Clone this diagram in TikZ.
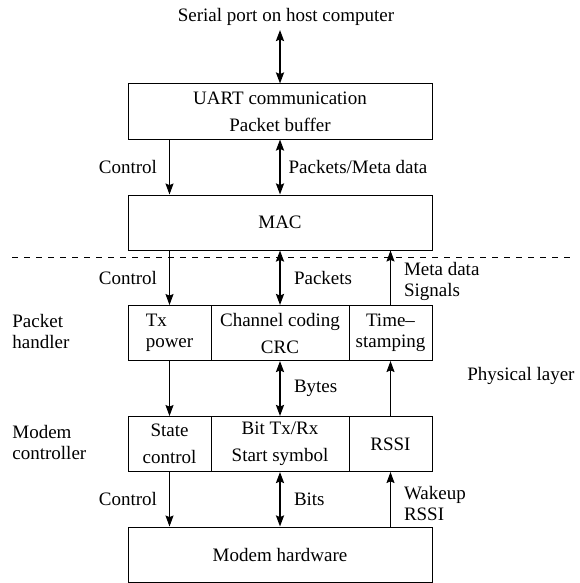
\documentclass[tikz,border=0pt]{standalone}
\usepackage{fontspec}
\setmainfont{Liberation Serif}
\usetikzlibrary{arrows.meta,positioning}
\tikzset{
	layerbox/.style={draw,line width=0.5pt,inner sep=0pt,minimum height=27.5pt,align=center},
	widebox/.style={layerbox,minimum width=152pt},
	sidecell/.style={layerbox,minimum width=41.5pt},
	midcell/.style={layerbox,minimum width=69pt},
	oneway/.style={-{Stealth[length=5.5pt,width=4pt,inset=0.8pt]},line width=0.5pt},
	twoway/.style={{Stealth[length=5.5pt,width=4pt,inset=0.8pt]}-{Stealth[length=5.5pt,width=4pt,inset=0.8pt]},line width=1pt},
	lbl/.style={inner sep=0pt,align=left}
}

\begin{document}
\begin{tikzpicture}[x=0.5pt,y=-0.5pt,font=\fontsize{9.5}{10.5}\selectfont]
	\useasboundingbox (0,0) rectangle (579,583);

	\node (serial) at (286,17) {Serial port on host computer};
	\coordinate (serialend) at (280,30);
	\node[widebox] (uart) at (280,111.5) {UART communication\\[3pt]Packet buffer};
	\node[widebox] (mac) at (280,222.5) {MAC};

	\draw[dashed,line width=0.5pt] (12,257)--(570,257);

	\node[sidecell,align=left] (txpow) at (169.5,333) {Tx\\power};
	\node[midcell] (chcod) at (280,333) {Channel coding\\[3pt]CRC};
	\node[sidecell] (tstamp) at (390.5,333) {Time--\\stamping};

	\node[sidecell] (stctl) at (169.5,444) {State\\[3pt]control};
	\node[midcell] (bittx) at (280,444) {Bit Tx/Rx\\[3pt]Start symbol};
	\node[sidecell] (rssi) at (390.5,444) {RSSI};

	\node[widebox] (modemhw) at (280,554.5) {Modem hardware};

	\node[lbl,anchor=west] (pkthdl) at (12,331) {Packet\\handler};
	\node[lbl,anchor=west] (mdmctl) at (12,442) {Modem\\controller};
	\node[lbl,anchor=west] (phylayer) at (467,376) {Physical layer};

	% host side
	\draw[twoway] (serialend)--(uart.north);
	\draw[oneway] (uart.south -| txpow)--node[lbl,midway,left=6pt]{Control}(mac.north -| txpow);
	\draw[twoway] (uart.south)--node[lbl,midway,right=3.8pt]{Packets/Meta data}(mac.north);

	% mac to packet handler
	\draw[oneway] (mac.south -| txpow)--node[lbl,midway,left=6pt]{Control}(txpow.north);
	\draw[twoway] (mac.south)--node[lbl,midway,right=6.5pt]{Packets}(chcod.north);
	\draw[oneway] (tstamp.north)--node[lbl,midway,right=6.5pt,yshift=-2pt]{Meta data\\Signals}(tstamp.north |- mac.south);

	% packet handler to modem controller
	\draw[oneway] (txpow.south)--(stctl.north);
	\draw[twoway] (chcod.south)--node[lbl,midway,right=6.5pt]{Bytes}(bittx.north);
	\draw[oneway] (rssi.north)--(tstamp.south);

	% modem controller to hardware
	\draw[oneway] (stctl.south)--node[lbl,midway,left=6pt]{Control}(stctl.south |- modemhw.north);
	\draw[twoway] (bittx.south)--node[lbl,midway,right=6.5pt]{Bits}(modemhw.north);
	\draw[oneway] (modemhw.north -| rssi)--node[lbl,midway,right=6.5pt,yshift=-2pt]{Wakeup\\RSSI}(rssi.south);
\end{tikzpicture}
\end{document}
